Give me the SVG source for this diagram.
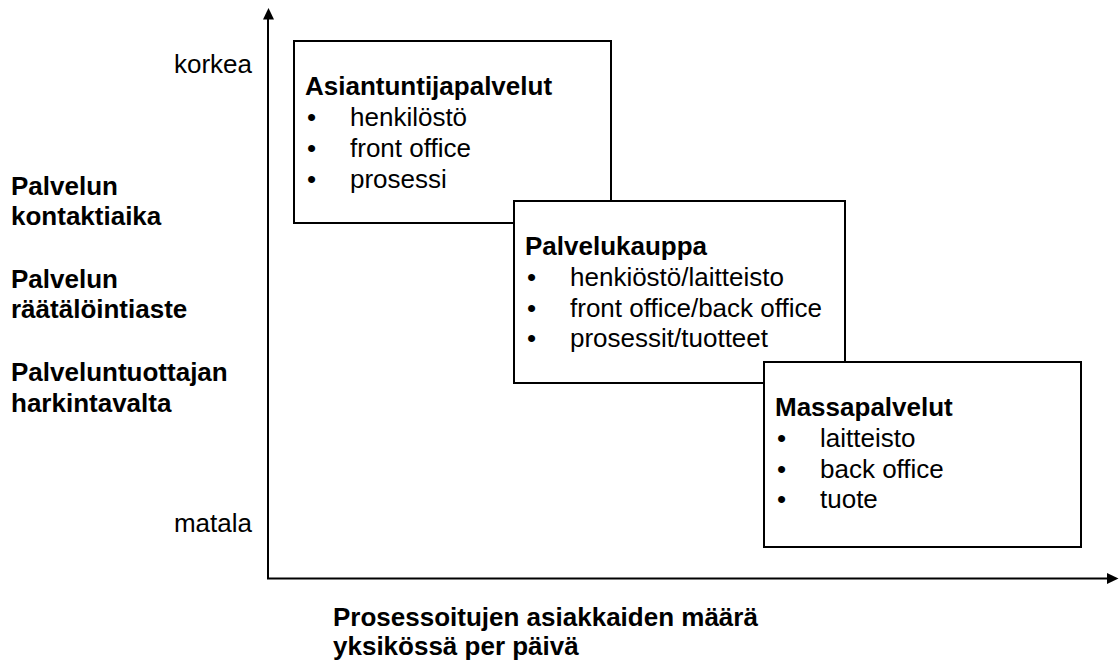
<svg xmlns="http://www.w3.org/2000/svg" width="1119" height="662" viewBox="0 0 1119 662">
  <style>
    text { font-family: "Liberation Sans", Arial, sans-serif; font-size: 26px; fill: #000; }
    .b { font-weight: bold; }
    .box { fill: #fff; stroke: #000; stroke-width: 2; }
    .axis { stroke: #000; stroke-width: 2; fill: none; }
    .head { fill: #000; stroke: none; }
  </style>

  <rect width="1119" height="662" fill="#fff"/>

  <!-- axes -->
  <g id="connectors">
    <line class="axis" x1="268" y1="579" x2="268" y2="18"/>
    <polygon class="head" points="268.5,8 263,19.5 274,19.5"/>
    <line class="axis" x1="267" y1="578.5" x2="1108" y2="578.5"/>
    <polygon class="head" points="1118.5,578.5 1107,573 1107,584"/>
  </g>

  <!-- vertical axis scale -->
  <g id="scale-high"><text x="252" y="73" text-anchor="end">korkea</text></g>
  <g id="scale-low"><text x="252" y="532" text-anchor="end">matala</text></g>

  <!-- vertical axis dimensions -->
  <g id="dim-contact">
    <text class="b" x="11" y="195">Palvelun</text>
    <text class="b" x="11" y="225">kontaktiaika</text>
  </g>
  <g id="dim-customisation">
    <text class="b" x="11" y="288">Palvelun</text>
    <text class="b" x="11" y="318">räätälöintiaste</text>
  </g>
  <g id="dim-discretion">
    <text class="b" x="11" y="381">Palveluntuottajan</text>
    <text class="b" x="11" y="412">harkintavalta</text>
  </g>

  <!-- horizontal axis label -->
  <g id="x-label">
    <text class="b" x="333" y="626">Prosessoitujen asiakkaiden määrä</text>
    <text class="b" x="333" y="655">yksikössä per päivä</text>
  </g>

  <!-- service types -->
  <g id="professional">
    <rect class="box" x="294" y="41" width="317" height="182"/>
    <text class="b" x="305" y="95">Asiantuntijapalvelut</text>
    <text x="307" y="126">•</text><text x="350" y="126">henkilöstö</text>
    <text x="307" y="157">•</text><text x="350" y="157">front office</text>
    <text x="307" y="188">•</text><text x="350" y="188">prosessi</text>
  </g>

  <g id="service-shop">
    <rect class="box" x="514" y="201" width="331" height="182"/>
    <text class="b" x="525" y="255">Palvelukauppa</text>
    <text x="527" y="286">•</text><text x="570" y="286">henkiöstö/laitteisto</text>
    <text x="527" y="317">•</text><text x="570" y="317">front office/back office</text>
    <text x="527" y="347">•</text><text x="570" y="347">prosessit/tuotteet</text>
  </g>

  <g id="mass-services">
    <rect class="box" x="764" y="362" width="317" height="185"/>
    <text class="b" x="775" y="416">Massapalvelut</text>
    <text x="777" y="447">•</text><text x="820" y="447">laitteisto</text>
    <text x="777" y="478">•</text><text x="820" y="478">back office</text>
    <text x="777" y="508">•</text><text x="820" y="508">tuote</text>
  </g>
</svg>
